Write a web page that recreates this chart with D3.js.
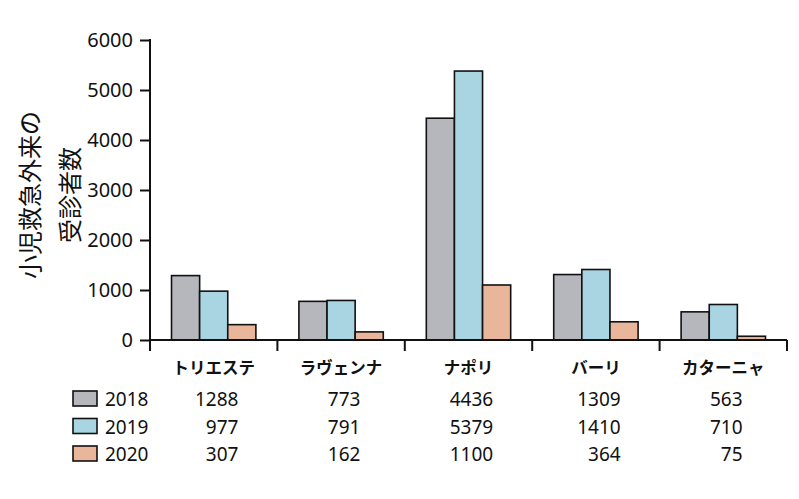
<!DOCTYPE html>
<html>
<head>
<meta charset="utf-8">
<script src="https://cdn.jsdelivr.net/npm/d3@7"></script>
<style>
  body { margin: 0; background: #fff; }
  svg { display: block; }
  .num { font-family: "Noto Sans", "DejaVu Sans", sans-serif; fill: #111; }
  .jp { font-family: "Noto Sans CJK JP", sans-serif; fill: #111; }
</style>
</head>
<body>
<div id="chart"></div>
<script>
// data
var cities = ["トリエステ", "ラヴェンナ", "ナポリ", "バーリ", "カターニャ"];
var years = ["2018", "2019", "2020"];
var v2018 = [1288, 773, 4436, 1309, 563];
var v2019 = [977, 791, 5379, 1410, 710];
var v2020 = [307, 162, 1100, 364, 75];
var yTicks = [0, 1000, 2000, 3000, 4000, 5000, 6000];
var yLabel = ["小児救急外来の", "受診者数"];

var colors = {"2018": "#b5b7bc", "2019": "#a9d4e2", "2020": "#e9b59b"};
var series = {"2018": v2018, "2019": v2019, "2020": v2020};

var width = 799, height = 499;

var svg = d3.select("#chart").append("svg")
    .attr("width", width)
    .attr("height", height);

// scales
var y = d3.scaleLinear().domain([0, 6000]).range([340, 40]);
var x0 = d3.scaleBand().domain(cities).range([150, 787]).padding(0);
var x1 = d3.scaleBand().domain(years).range([0, x0.bandwidth()])
    .paddingInner(0).paddingOuter(0.765);

var tickLen = 11;

// bars
cities.forEach(function(c, i) {
  years.forEach(function(yr) {
    var v = series[yr][i];
    svg.append("rect")
      .attr("x", x0(c) + x1(yr))
      .attr("y", y(v))
      .attr("width", x1.bandwidth())
      .attr("height", y(0) - y(v))
      .attr("fill", colors[yr])
      .attr("stroke", "#111")
      .attr("stroke-width", 1.6);
  });
});

// Y axis
var yAxis = svg.append("g")
    .attr("transform", "translate(150,0)")
    .call(d3.axisLeft(y).tickValues(yTicks).tickSize(10).tickPadding(7)
      .tickFormat(d3.format("d")));
yAxis.select(".domain").remove();
yAxis.selectAll(".tick line").attr("stroke", "#111").attr("stroke-width", 2);
yAxis.selectAll(".tick text")
    .attr("class", "num")
    .style("font-size", "20px")
    .attr("fill", "#111");
yAxis.attr("font-family", null).attr("font-size", null);

svg.append("line")
    .attr("x1", 150).attr("x2", 150)
    .attr("y1", y(6000) - 1).attr("y2", y(0) + tickLen)
    .attr("stroke", "#111").attr("stroke-width", 2);

// X axis line and ticks at category edges
svg.append("line")
    .attr("x1", x0.range()[0]).attr("x2", x0.range()[1])
    .attr("y1", y(0)).attr("y2", y(0))
    .attr("stroke", "#111").attr("stroke-width", 2);

var edges = cities.map(function(c) { return x0(c); }).concat([x0.range()[1]]);
svg.selectAll(".xtick").data(edges).enter().append("line")
    .attr("class", "xtick")
    .attr("x1", function(d) { return d; }).attr("x2", function(d) { return d; })
    .attr("y1", y(0)).attr("y2", y(0) + tickLen)
    .attr("stroke", "#111").attr("stroke-width", 2);

// category labels
svg.selectAll(".cat").data(cities).enter().append("text")
    .attr("class", "jp cat")
    .attr("x", function(d) { return x0(d) + x0.bandwidth() / 2; })
    .attr("y", 374)
    .attr("text-anchor", "middle")
    .style("font-size", "16.5px")
    .style("font-weight", "bold")
    .text(function(d) { return d; });

// y label, two rotated lines
yLabel.forEach(function(t, i) {
  svg.append("text")
    .attr("class", "jp")
    .attr("transform", "translate(" + (39 + i * 40) + ",195) rotate(-90)")
    .attr("text-anchor", "middle")
    .style("font-size", "24px")
    .text(t);
});

// data table with legend
var rowY = [406, 433.5, 461];
years.forEach(function(yr, r) {
  svg.append("rect")
    .attr("x", 73).attr("y", rowY[r] - 15)
    .attr("width", 24).attr("height", 15)
    .attr("fill", colors[yr])
    .attr("stroke", "#111").attr("stroke-width", 1.6);
  svg.append("text")
    .attr("class", "num")
    .attr("x", 105).attr("y", rowY[r])
    .style("font-size", "19px")
    .text(yr);
});

// values: first row centred on category, other rows right-aligned to it
cities.forEach(function(c, i) {
  var cx = x0(c) + x0.bandwidth() / 2;
  var probe = svg.append("text").attr("class", "num")
    .style("font-size", "19px").text(String(v2018[i]));
  var w = probe.node().getComputedTextLength();
  probe.remove();
  years.forEach(function(yr, r) {
    svg.append("text")
      .attr("class", "num")
      .attr("x", cx + w / 2 + 3)
      .attr("y", rowY[r])
      .attr("text-anchor", "end")
      .style("font-size", "19px")
      .text(series[yr][i]);
  });
});
</script>
</body>
</html>
